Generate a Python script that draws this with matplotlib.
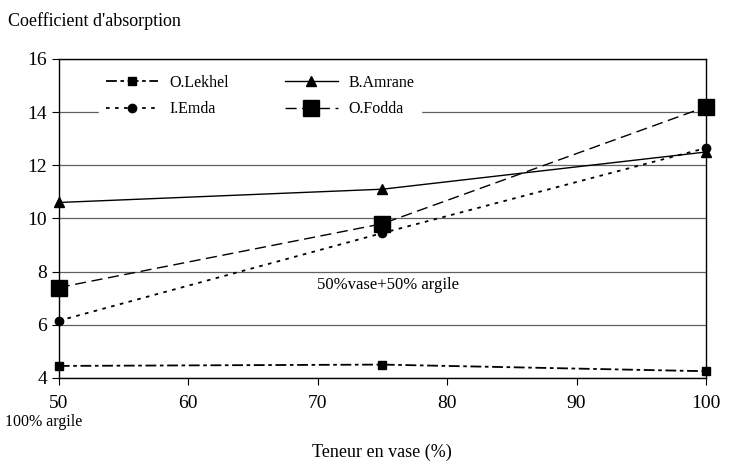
import matplotlib
matplotlib.use("Agg")
import matplotlib.pyplot as plt

x = [50, 75, 100]
lekhel = [4.45, 4.5, 4.25]
amrane = [10.6, 11.1, 12.5]
emda = [6.15, 9.45, 12.65]
fodda = [7.4, 9.8, 14.2]

plt.rcParams['font.family'] = ['Liberation Serif', 'DejaVu Serif']

fig = plt.figure(figsize=(7.35, 4.70), dpi=100)
ax = fig.add_axes([0.080, 0.196, 0.8805, 0.6785])

ax.set_xlim(50, 100)
ax.set_ylim(4, 16)
ax.set_yticks([4, 6, 8, 10, 12, 14, 16])
ax.set_xticks([50, 60, 70, 80, 90, 100])
ax.yaxis.grid(True, color='#606060', lw=0.9)
ax.set_axisbelow(True)

h1, = ax.plot(x, lekhel, color='black', lw=1.3, linestyle=(0, (6, 2, 2, 2)), marker='s', ms=6, label='O.Lekhel', clip_on=False)
h2, = ax.plot(x, amrane, color='black', lw=1.0, linestyle='-', marker='^', ms=7, label='B.Amrane', clip_on=False)
h3, = ax.plot(x, emda, color='black', lw=1.3, linestyle=(0, (2, 3)), marker='o', ms=6, label='I.Emda', clip_on=False)
h4, = ax.plot(x, fodda, color='black', lw=1.0, linestyle=(0, (8, 4)), marker='s', ms=11, label='O.Fodda', clip_on=False)

for s in ax.spines.values():
    s.set_color('black')
    s.set_linewidth(1.0)

ax.tick_params(axis='both', labelsize=14, direction='out', length=5, color='black')
ax.tick_params(axis='x', pad=7)

leg = ax.legend([h1, h3, h2, h4], ['O.Lekhel', 'I.Emda', 'B.Amrane', 'O.Fodda'],
                loc='upper left', ncol=2, fontsize=11.5, frameon=True, framealpha=1,
                edgecolor='white', fancybox=False, bbox_to_anchor=(0.05, 0.995),
                handlelength=3.3, handletextpad=0.7, columnspacing=3.5, labelspacing=0.65)

ax.text(75.4, 7.5, '50%vase+50% argile', fontsize=12, ha='center', va='center')
fig.text(0.007, 0.102, '100% argile', fontsize=11.5, ha='left', va='center')
fig.text(0.52, 0.038, 'Teneur en vase (%)', fontsize=13, ha='center', va='center')
fig.text(0.011, 0.955, "Coefficient d'absorption", fontsize=13, ha='left', va='center')

fig.savefig('out.png', dpi=100)
